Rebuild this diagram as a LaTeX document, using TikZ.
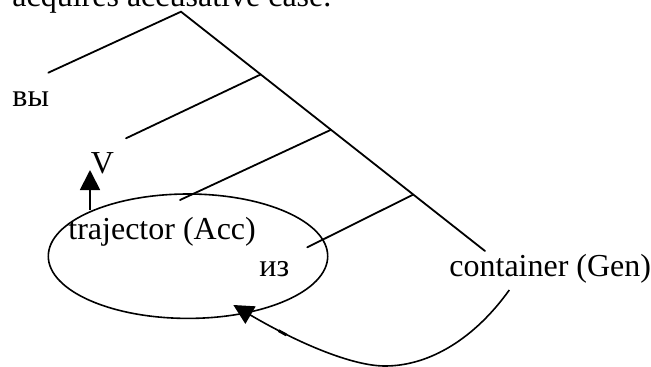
\documentclass[tikz,border=0pt]{standalone}
\usepackage{fontspec}
\setmainfont{Liberation Serif}
\usetikzlibrary{arrows.meta,calc}
\begin{document}
\begin{tikzpicture}[x=1pt,y=-1pt,line width=1.8pt,
  lbl/.style={inner sep=0pt,anchor=base west,font=\fontsize{32}{38}\selectfont},
  branch/.style={line width=1.8pt,line cap=round},
  tipped/.style={-{Triangle[length=20pt,width=20pt]}}]
\useasboundingbox (0,0) rectangle (651,367);

% caption line above the figure (its upper part lies outside the page)
\node[lbl] (caption) at (11.5,6.5) {acquires accusative case.};

% labels
\node[lbl] (vy)   at (11.5,106.5) {вы};
\node[lbl] (verb) at (90,173.3) {V};
\node[lbl] (traj) at (67.5,239.3) {trajector (Acc)};
\node[lbl] (iz)   at (258.5,276.7) {из};
\node[lbl] (cont) at (448.5,276) {container (Gen)};

% tree: apex, spine end and branch points
\coordinate (apex) at (181,11.7);
\coordinate (spineend) at (485,251);
\coordinate (j1) at ($(apex)!0.2622!(spineend)$);
\coordinate (j2) at ($(apex)!0.4934!(spineend)$);
\coordinate (j3) at ($(apex)!0.7641!(spineend)$);
\coordinate (leaf0) at (48.3,72.7);
\coordinate (leaf1) at (126,138.3);
\coordinate (leaf2) at (180,200);
\coordinate (leaf3) at (307.3,247.3);

\draw[branch] (leaf0) -- (apex) -- (spineend);
\draw[branch] (j1) -- (leaf1);
\draw[branch] (j2) -- (leaf2);
\draw[branch] (j3) -- (leaf3);

% trajector region
\draw[line width=1.6pt] (188,256.2) ellipse [x radius=139.7,y radius=62.2];

% arrow up to V
\coordinate (vfoot) at (90,210);
\coordinate (vtip) at (90,170);
\draw[tipped] (vfoot) -- (vtip);

% curved arrow from the container back into the region
\coordinate (cstart) at (509.3,290);
\coordinate (cbottom) at (385,366);
\coordinate (ctip) at (233.3,305);
\draw[tipped,line width=1.6pt] (cstart) .. controls (475,338) and (430,366) .. (cbottom)
  .. controls (352,366) and (298,343) .. (ctip);
% short heavier stretch on the returning stroke
\draw[line width=2.8pt] (278.5,330.6) -- (286.5,335);
\end{tikzpicture}
\end{document}
